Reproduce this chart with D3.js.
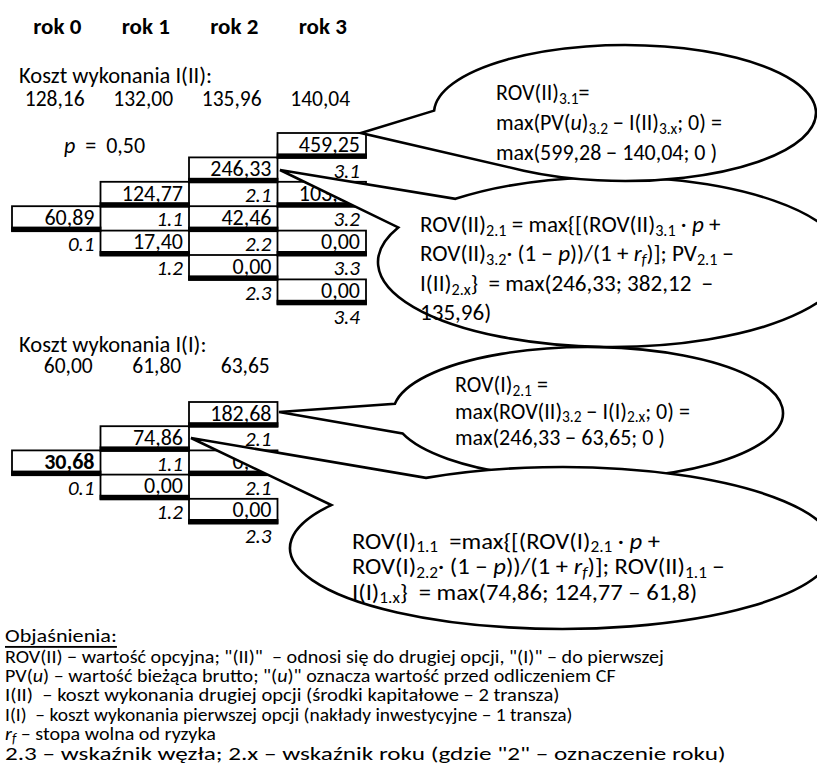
<!DOCTYPE html>
<html><head><meta charset="utf-8">
<script src="https://cdn.jsdelivr.net/npm/d3@7"></script>
<style>
body{margin:0;background:#fff}
svg{display:block}
text{font-family:Carlito, Lato, "Open Sans", sans-serif; fill:#000; white-space:pre}
</style>
</head><body>
<svg id="c" width="817" height="763"></svg>
<script>
// ---------------- data ----------------
const years = ["rok 0", "rok 1", "rok 2", "rok 3"];
const costII = ["128,16", "132,00", "135,96", "140,04"];
const costI = ["60,00", "61,80", "63,65"];
const pValue = "0,50";
const treeIIValues = [["60,89"], ["124,77", "17,40"], ["246,33", "42,46", "0,00"], ["459,25", "103,54", "0,00", "0,00"]];
const treeIILabels = [["0.1"], ["1.1", "1.2"], ["2.1", "2.2", "2.3"], ["3.1", "3.2", "3.3", "3.4"]];
const treeIValues = [["30,68"], ["74,86", "0,00"], ["182,68", "0,00", "0,00"]];
const treeILabels = [["0.1"], ["1.1", "1.2"], ["2.1", "2.1", "2.3"]];
const bubble1Text = ["ROV(II)_{3.1}=", "max(PV(*u*)_{3.2} − I(II)_{3.x}; 0) =", "max(599,28 − 140,04; 0 )"];
const bubble2Text = ["ROV(II)_{2.1} = max{[(ROV(II)_{3.1} · *p* +", "ROV(II)_{3.2}· (1 − *p*))/(1 + *r*_{*f*})]; PV_{2.1} −", "I(II)_{2.x}}  = max(246,33; 382,12  −", "135,96)"];
const bubble3Text = ["ROV(I)_{2.1} =", "max(ROV(II)_{3.2} − I(I)_{2.x}; 0) =", "max(246,33 − 63,65; 0 )"];
const bubble4Text = ["ROV(I)_{1.1}  =max{[(ROV(I)_{2.1} · *p* +", "ROV(I)_{2.2}· (1 − *p*))/(1 + *r*_{*f*})]; ROV(II)_{1.1} −", "I(I)_{1.x}}  = max(74,86; 124,77 – 61,8)"];
const legendTitle = "Objaśnienia:";
const legendLines = [
  "ROV(II) − wartość opcyjna; \"(II)\"  – odnosi się do drugiej opcji, \"(I)\" – do pierwszej",
  "PV(*u*) – wartość bieżąca brutto; \"(*u*)\" oznacza wartość przed odliczeniem CF",
  "I(II)  – koszt wykonania drugiej opcji (środki kapitałowe – 2 transza)",
  "I(I)  – koszt wykonania pierwszej opcji (nakłady inwestycyjne – 1 transza)",
  "*r*_{*f*} – stopa wolna od ryzyka",
  "2.3 – wskaźnik węzła; 2.x – wskaźnik roku (gdzie \"2\" – oznaczenie roku)"
];

// ---------------- layout ----------------
const svg = d3.select("#c");
const xs = d3.scaleLinear().domain([0, 4]).range([12, 366]);
const yII = d3.scaleLinear().domain([0, 8]).range([133, 133 + 8 * 24.4]);
const yI = d3.scaleLinear().domain([0, 6]).range([402, 402 + 6 * 24.2]);
const legendWidths = [659, 611, 555, 568, 211, 721];
const legendSizes = [18.5, 18.5, 18.5, 18.5, 19, 19];

function rich(g, str, x, y, fs, opts = {}) {
  const t = g.append("text").attr("x", x).attr("y", y).attr("font-size", fs)
    .attr("dominant-baseline", "central");
  if (opts.anchor) t.attr("text-anchor", opts.anchor);
  if (opts.weight) t.attr("font-weight", opts.weight);
  if (opts.italic) t.attr("font-style", "italic");
  const parts = str.split(/(_\{[^}]*\}|\*[^*]+\*)/).filter(s => s.length);
  let shifted = false;
  parts.forEach(p => {
    let sub = false, txt = p, ital = false;
    if (p.startsWith("_{")) { sub = true; txt = p.slice(2, -1); }
    if (txt.length > 2 && txt.startsWith("*") && txt.endsWith("*")) { ital = true; txt = txt.slice(1, -1); }
    const ts = t.append("tspan").text(txt);
    if (ital) ts.attr("font-style", "italic");
    if (sub) {
      ts.attr("font-size", fs * 0.7);
      if (!shifted) ts.attr("dy", fs * 0.26);
      shifted = true;
    } else if (shifted) { ts.attr("dy", -fs * 0.26); shifted = false; }
  });
  let sx = opts.scaleX || 1;
  if (opts.fitWidth) sx = opts.fitWidth / t.node().getBBox().width;
  if (sx !== 1) t.attr("transform", `translate(${x},0) scale(${sx},1) translate(${-x},0)`);
  return t;
}

// headers
years.forEach((d, i) => rich(svg, d, xs(i + 0.5) + 1, 26, 23, { anchor: "middle", weight: "bold" }));

// costs
rich(svg, "Koszt wykonania I(II):", 19, 75, 22.5);
costII.forEach((d, i) => rich(svg, d, xs(i + 0.5) - 1.5, 99, 21.5, { anchor: "middle" }));
rich(svg, "*p*  =  " + pValue, 64, 145, 22);

rich(svg, "Koszt wykonania I(I):", 19, 344, 22.5);
costI.forEach((d, i) => rich(svg, d, xs(i + 0.5) + 12, 366, 21.5, { anchor: "middle" }));

// trees
function drawTree(values, labels, ys, N, boldRoot) {
  const g = svg.append("g");
  const nodes = [];
  values.forEach((col, i) => col.forEach((v, j) => nodes.push({ i, j, v, lab: labels[i][j], row: (N - i) + 2 * j })));
  g.selectAll("rect.box").data(nodes).join("rect")
    .attr("x", d => xs(d.i)).attr("y", d => ys(d.row))
    .attr("width", d => xs(d.i + 1) - xs(d.i)).attr("height", d => ys(d.row + 1) - ys(d.row))
    .attr("fill", "#fff").attr("stroke", "#000").attr("stroke-width", 1.8);
  g.selectAll("rect.thick").data(nodes).join("rect")
    .attr("x", d => xs(d.i) - 0.9).attr("y", d => ys(d.row + 1) - 4)
    .attr("width", d => xs(d.i + 1) - xs(d.i) + 1.8).attr("height", 5.5)
    .attr("fill", "#000");
  nodes.forEach(d => {
    rich(g, d.v, xs(d.i + 1) - 6, (ys(d.row) + ys(d.row + 1)) / 2 - 1.5, 22,
      { anchor: "end", weight: (boldRoot && d.i === 0) ? "bold" : null });
    rich(g, d.lab, xs(d.i + 1) - 6, (ys(d.row + 1) + ys(d.row + 2)) / 2 + 1, 21,
      { anchor: "end", italic: true });
  });
}
drawTree(treeIIValues, treeIILabels, yII, 3, false);
drawTree(treeIValues, treeILabels, yI, 2, true);

// callouts
function callout(b) {
  const rad = a => a * Math.PI / 180;
  const pt = a => [b.cx + b.rx * Math.cos(rad(a)), b.cy + b.ry * Math.sin(rad(a))];
  const p1 = pt(b.a1), p2 = pt(b.a2);
  const s = `M${b.tip}L${p1}A${b.rx},${b.ry} 0 1 1 ${p2}Z`;
  svg.append("path").attr("d", s).attr("fill", "#fff").attr("stroke", "#000")
    .attr("stroke-width", 2.6).attr("stroke-linejoin", "miter");
  const g = svg.append("g");
  b.text.forEach((l, k) => rich(g, l, b.tx, b.ty + k * b.lh, 22, { scaleX: b.sx }));
}
callout({ cx: 612, cy: 262, rx: 234, ry: 85, a1: 228, a2: 204, tip: [280, 170], text: bubble2Text, tx: 420, ty: 224, lh: 29.5, sx: 1.05 });
callout({ cx: 625, cy: 113, rx: 191, ry: 68, a1: 182, a2: 122, tip: [361, 133], text: bubble1Text, tx: 496, ty: 92, lh: 30, sx: 1 });
callout({ cx: 588, cy: 413, rx: 195, ry: 66, a1: 188, a2: 162, tip: [279, 412], text: bubble3Text, tx: 455, ty: 384, lh: 26.5, sx: 1 });
callout({ cx: 562, cy: 548, rx: 272, ry: 81, a1: 240, a2: 212, tip: [191, 438], text: bubble4Text, tx: 352, ty: 541, lh: 25.5, sx: 1.12 });

// legend
const lg = svg.append("g");
rich(lg, legendTitle, 5, 636, 18.5, { fitWidth: 112 }).attr("text-decoration", "underline");
legendLines.forEach((l, k) => rich(lg, l, 5, 656 + k * 19.4, legendSizes[k], { fitWidth: legendWidths[k] }));
</script>
</body></html>
